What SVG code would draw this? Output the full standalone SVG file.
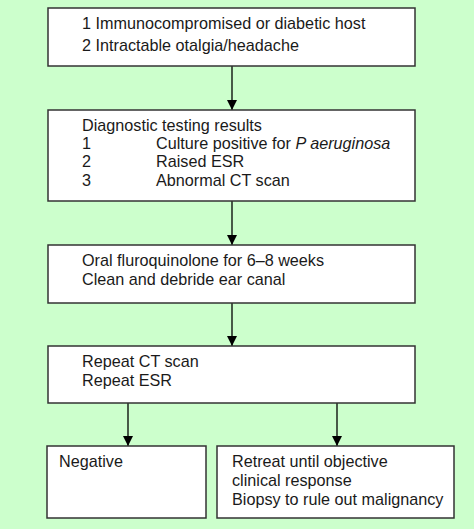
<svg xmlns="http://www.w3.org/2000/svg" width="474" height="529" viewBox="0 0 474 529">
<defs>
<style>
.box{fill:#ffffff;stroke:#333333;stroke-width:1.5}
.t{font-family:"Liberation Sans",Arial,sans-serif;font-size:16.2px;fill:#1a1a1a}
.c{stroke:#000;stroke-width:1.3;fill:none}
</style>
<marker id="ah" markerWidth="10" markerHeight="10" refX="10" refY="5" orient="auto" markerUnits="userSpaceOnUse">
<path d="M0,0 L10,5 L0,10 Z" fill="#000"/>
</marker>
</defs>
<rect width="474" height="529" fill="#ccffcc"/>
<g id="connectors">
<line class="c" x1="232" y1="66" x2="232" y2="110" marker-end="url(#ah)"/>
<line class="c" x1="232" y1="201" x2="232" y2="245" marker-end="url(#ah)"/>
<line class="c" x1="232" y1="303" x2="232" y2="346" marker-end="url(#ah)"/>
<line class="c" x1="128" y1="403" x2="128" y2="446" marker-end="url(#ah)"/>
<line class="c" x1="337" y1="403" x2="337" y2="446" marker-end="url(#ah)"/>
</g>
<g id="n1">
<rect class="box" x="48" y="8" width="367" height="58"/>
<text class="t" x="82" y="29">1 Immunocompromised or diabetic host</text>
<text class="t" x="82" y="51">2 Intractable otalgia/headache</text>
</g>
<g id="n2">
<rect class="box" x="48" y="110" width="367" height="91"/>
<text class="t" x="82" y="131">Diagnostic testing results</text>
<text class="t" x="82" y="149">1</text>
<text class="t" x="156" y="149">Culture positive for <tspan font-style="italic">P aeruginosa</tspan></text>
<text class="t" x="82" y="167">2</text>
<text class="t" x="156" y="167">Raised ESR</text>
<text class="t" x="82" y="186">3</text>
<text class="t" x="156" y="186">Abnormal CT scan</text>
</g>
<g id="n3">
<rect class="box" x="48" y="245" width="367" height="58"/>
<text class="t" x="82" y="266">Oral fluroquinolone for 6–8 weeks</text>
<text class="t" x="82" y="285">Clean and debride ear canal</text>
</g>
<g id="n4">
<rect class="box" x="48" y="346" width="367" height="57"/>
<text class="t" x="82" y="367">Repeat CT scan</text>
<text class="t" x="82" y="386">Repeat ESR</text>
</g>
<g id="n5">
<rect class="box" x="47" y="446" width="159" height="72"/>
<text class="t" x="59" y="467">Negative</text>
</g>
<g id="n6">
<rect class="box" x="217" y="446" width="237" height="72"/>
<text class="t" x="232" y="467">Retreat until objective</text>
<text class="t" x="232" y="486">clinical response</text>
<text class="t" x="232" y="505">Biopsy to rule out malignancy</text>
</g>
</svg>
